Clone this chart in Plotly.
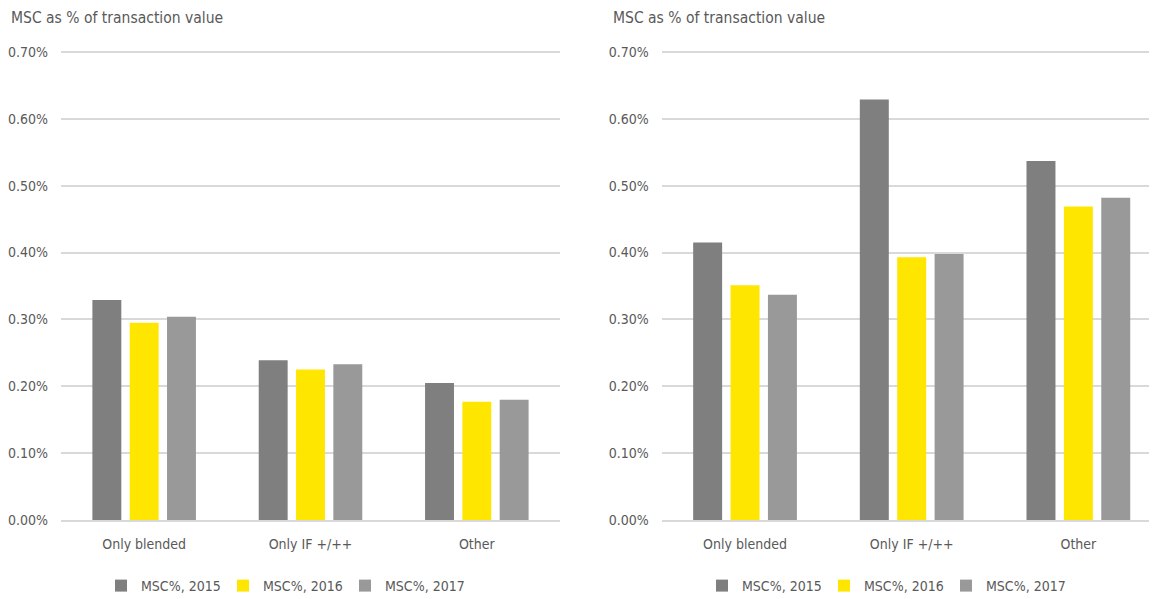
import plotly.graph_objects as go

categories = ["Only blended", "Only IF +/++", "Other"]
series_names = ["MSC%, 2015", "MSC%, 2016", "MSC%, 2017"]
left_2015 = [0.329, 0.239, 0.205]
left_2016 = [0.295, 0.225, 0.177]
left_2017 = [0.304, 0.233, 0.180]
right_2015 = [0.415, 0.629, 0.537]
right_2016 = [0.351, 0.393, 0.469]
right_2017 = [0.337, 0.398, 0.482]
y_ticks = [0.0, 0.1, 0.2, 0.3, 0.4, 0.5, 0.6, 0.7]
y_tick_labels = ["0.00%", "0.10%", "0.20%", "0.30%", "0.40%", "0.50%", "0.60%", "0.70%"]
title_text = "MSC as % of transaction value"

colors = ["#7f7f7f", "#ffe600", "#999999"]
FONT = "DejaVu Sans Condensed, Arial Narrow, sans-serif"
TXT = "#595959"
GRID = "#d9d9d9"

# page body has an 8px margin: figure origin sits at (8, 8) in the window
OX, OY = 8, 8
W, H = 1157 - OX, 599 - OY
Y_TOP = 0.702


def fx(px):
    return (px - OX) / W


def fy(py):
    return (H - (py - OY)) / H


fig = go.Figure()
left_series = [left_2015, left_2016, left_2017]
right_series = [right_2015, right_2016, right_2017]
for i, name in enumerate(series_names):
    fig.add_trace(go.Bar(x=categories, y=left_series[i], name=name,
                         marker=dict(color=colors[i], line=dict(width=0)),
                         xaxis="x", yaxis="y", legend="legend",
                         hovertemplate="%{x}: %{y:.2f}%<extra>" + name + "</extra>"))
for i, name in enumerate(series_names):
    fig.add_trace(go.Bar(x=categories, y=right_series[i], name=name,
                         marker=dict(color=colors[i], line=dict(width=0)),
                         xaxis="x2", yaxis="y2", legend="legend2",
                         hovertemplate="%{x}: %{y:.2f}%<extra>" + name + "</extra>"))

px_per_unit = (520 - 52) / 0.7
y0 = fy(520)
y1 = fy(520 - Y_TOP * px_per_unit)
lx0, lx1 = fx(61), fx(560)
rx0, rx1 = fx(661.7), 1.0
right_max = 2.5 - (1161.7 - 1157) / 166.7

xcommon = dict(showgrid=False, showline=True, linecolor=GRID, linewidth=1.5,
               ticks="", tickfont=dict(family=FONT, size=14, color=TXT),
               ticklabelstandoff=10, fixedrange=True)
ycommon = dict(range=[0, Y_TOP], tickvals=y_ticks, ticktext=y_tick_labels,
               showgrid=True, gridcolor=GRID, gridwidth=1.5, zeroline=False,
               showline=False, ticks="", tickfont=dict(family=FONT, size=14, color=TXT),
               ticklabelstandoff=12, fixedrange=True)

legend_common = dict(orientation="h", yanchor="middle", y=fy(586),
                     entrywidth=77, entrywidthmode="pixels", itemwidth=30,
                     font=dict(family=FONT, size=14, color=TXT), bgcolor="rgba(0,0,0,0)",
                     traceorder="normal", itemclick=False, itemdoubleclick=False)

fig.update_layout(
    width=W, height=H,
    margin=dict(l=0, r=0, t=0, b=0, autoexpand=False),
    paper_bgcolor="white", plot_bgcolor="white",
    barmode="group", bargap=0.327, bargroupgap=0.225,
    font=dict(family=FONT, color=TXT),
    xaxis=dict(domain=[lx0, lx1], range=[-0.5, 2.5], anchor="y", **xcommon),
    yaxis=dict(domain=[y0, y1], anchor="x", **ycommon),
    xaxis2=dict(domain=[rx0, rx1], range=[-0.5, right_max], anchor="y2", **xcommon),
    yaxis2=dict(domain=[y0, y1], anchor="x2", **ycommon),
    legend=dict(x=fx(101), xanchor="left", **legend_common),
    legend2=dict(x=fx(702), xanchor="left", **legend_common),
    annotations=[
        dict(text=title_text, x=fx(9), y=fy(18), xref="paper", yref="paper",
             xanchor="left", yanchor="middle", showarrow=False,
             font=dict(family=FONT, size=15.5, color=TXT)),
        dict(text=title_text, x=fx(611), y=fy(18), xref="paper", yref="paper",
             xanchor="left", yanchor="middle", showarrow=False,
             font=dict(family=FONT, size=15.5, color=TXT)),
    ],
)

fig.write_html("out.html")
